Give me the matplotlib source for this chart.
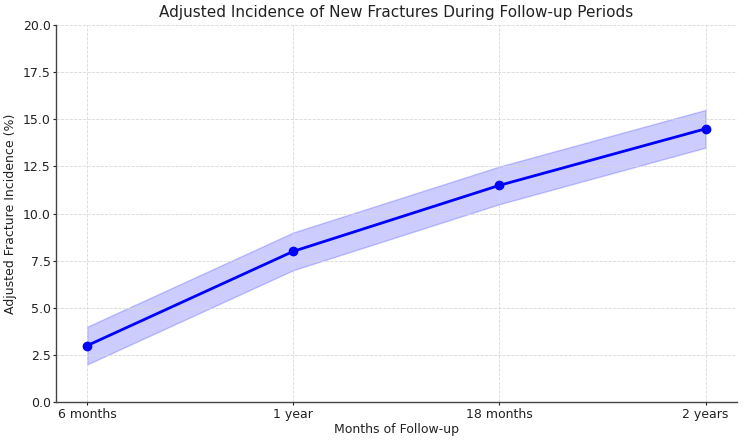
import matplotlib
matplotlib.use("Agg")
import matplotlib.pyplot as plt

categories = ["6 months", "1 year", "18 months", "2 years"]
incidence = [3.0, 8.0, 11.5, 14.5]
lower = [2.0, 7.0, 10.5, 13.5]
upper = [4.0, 9.0, 12.5, 15.5]

fig = plt.figure(figsize=(7.5, 4.4), dpi=100)
ax = fig.add_axes([0.075, 0.086, 0.907, 0.857])
x = list(range(len(categories)))
ax.fill_between(x, lower, upper, color="blue", alpha=0.2)
ax.plot(x, incidence, color="blue", marker="o", linewidth=2, markersize=6)
ax.set_xticks(x)
ax.set_xticklabels(categories)
ax.set_ylim(0, 20)
ax.set_yticks([0, 2.5, 5, 7.5, 10, 12.5, 15, 17.5, 20])
ax.set_xlim(-0.15, 3.15)
ax.grid(True, linestyle="--", color="#d8d8d8", linewidth=0.6)
for s in ["top", "right"]:
    ax.spines[s].set_visible(False)
for s in ["left", "bottom"]:
    ax.spines[s].set_color("#444444")
    ax.spines[s].set_linewidth(1.0)
ax.set_title("Adjusted Incidence of New Fractures During Follow-up Periods", fontsize=11, color="#222222")
ax.set_xlabel("Months of Follow-up", fontsize=9, labelpad=2, color="#222222")
ax.set_ylabel("Adjusted Fracture Incidence (%)", fontsize=9, labelpad=4, color="#222222")
ax.tick_params(labelsize=9, length=2, pad=2, colors="#222222")
fig.savefig("out.png", dpi=100)
